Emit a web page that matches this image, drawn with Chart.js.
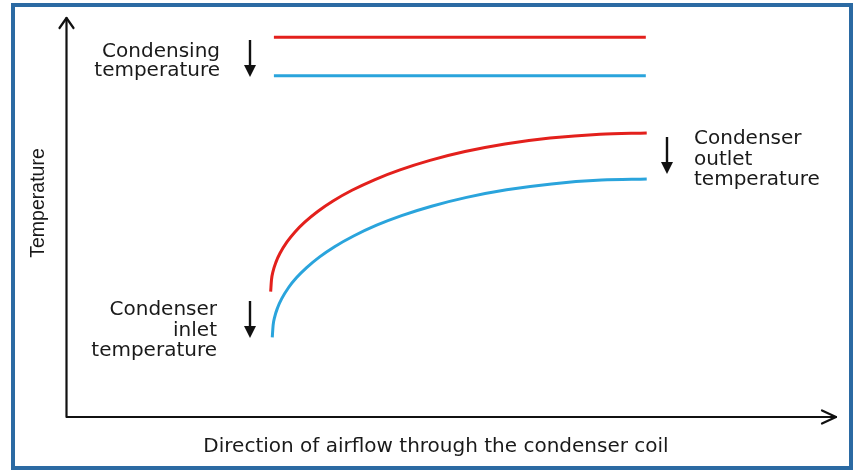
<!DOCTYPE html>
<html>
<head>
<meta charset="utf-8">
<script src="https://cdn.jsdelivr.net/npm/chart.js@4/dist/chart.umd.min.js"></script>
<style>
html,body{margin:0;padding:0;background:#fff;}
canvas{display:block;}
</style>
</head>
<body>
<canvas id="c" width="854" height="470"></canvas>
<script>
// Schematic values (arbitrary units, 0-100 on both axes)
const condensingX = [27.0, 75.3];
const condensingHigh = [95.2, 95.2];
const condensingLow = [85.5, 85.5];

const airHighX = [26.58, 26.69, 26.88, 27.27, 27.79, 28.70, 29.74, 31.04, 32.73, 34.68, 37.14, 40.13, 43.38, 47.27, 51.82, 57.01, 62.86, 69.35, 75.42];
const airHigh  = [31.40, 34.46, 36.42, 38.82, 41.03, 43.88, 46.39, 48.90, 51.58, 54.14, 56.82, 59.52, 61.93, 64.31, 66.52, 68.42, 69.92, 70.88, 71.18];
const airLowX  = [26.79, 26.90, 27.09, 27.48, 28.00, 28.91, 29.95, 31.25, 32.94, 34.88, 37.35, 40.34, 43.58, 47.48, 52.03, 57.22, 63.06, 69.55, 75.42];
const airLow   = [19.97, 23.03, 24.99, 27.39, 29.60, 32.46, 34.94, 37.44, 40.13, 42.68, 45.36, 48.07, 50.48, 52.83, 55.04, 56.94, 58.42, 59.37, 59.65];

const xTitle = 'Direction of airflow through the condenser coil';
const yTitle = 'Temperature';
const labelCondensing = ['Condensing', 'temperature'];
const labelOutlet = ['Condenser', 'outlet', 'temperature'];
const labelInlet = ['Condenser', 'inlet', 'temperature'];

const RED = '#e3201c';
const BLUE = '#2aa4dc';

function pts(xs, ys) { return xs.map((x, i) => ({x: x, y: ys[i]})); }

const decor = {
  id: 'decor',
  afterDraw(chart) {
    const ctx = chart.ctx;
    const a = chart.chartArea;
    ctx.save();
    // frame
    ctx.strokeStyle = '#2b6aa3';
    ctx.lineWidth = 4;
    ctx.strokeRect(13, 5, 838, 463);

    // axes
    ctx.strokeStyle = '#111';
    ctx.lineWidth = 2.2;
    ctx.lineCap = 'round';
    ctx.lineJoin = 'round';
    ctx.beginPath();
    ctx.moveTo(a.left + 0.5, a.top);
    ctx.lineTo(a.left + 0.5, a.bottom);
    ctx.lineTo(a.right, a.bottom);
    ctx.stroke();
    ctx.beginPath();
    ctx.moveTo(a.left - 6.5, a.top + 10);
    ctx.lineTo(a.left + 0.5, a.top);
    ctx.lineTo(a.left + 7.5, a.top + 10);
    ctx.stroke();
    ctx.beginPath();
    ctx.moveTo(a.right - 14, a.bottom - 6.5);
    ctx.lineTo(a.right, a.bottom);
    ctx.lineTo(a.right - 14, a.bottom + 6.5);
    ctx.stroke();

    // down arrows
    function downArrow(x, y1, y2) {
      ctx.fillStyle = '#111';
      ctx.strokeStyle = '#111';
      ctx.lineWidth = 2.4;
      ctx.lineCap = 'butt';
      ctx.beginPath();
      ctx.moveTo(x, y1);
      ctx.lineTo(x, y2 - 8);
      ctx.stroke();
      ctx.beginPath();
      ctx.moveTo(x - 6, y2 - 12);
      ctx.lineTo(x + 6, y2 - 12);
      ctx.lineTo(x, y2);
      ctx.closePath();
      ctx.fill();
    }
    downArrow(250, 40, 77);
    downArrow(667, 137, 174);
    downArrow(250, 301, 338);

    // annotation text
    ctx.fillStyle = '#1a1a1a';
    ctx.font = '20px "DejaVu Sans"';
    ctx.textBaseline = 'alphabetic';
    ctx.textAlign = 'right';
    ctx.fillText(labelCondensing[0], 220, 56.5);
    ctx.fillText(labelCondensing[1], 220, 76);
    ctx.fillText(labelInlet[0], 217, 315);
    ctx.fillText(labelInlet[1], 217, 335.5);
    ctx.fillText(labelInlet[2], 217, 356);
    ctx.textAlign = 'left';
    ctx.fillText(labelOutlet[0], 694, 144);
    ctx.fillText(labelOutlet[1], 694, 164.5);
    ctx.fillText(labelOutlet[2], 694, 185);

    // axis titles
    ctx.textAlign = 'center';
    ctx.fillText(xTitle, 436, 452);
    ctx.save();
    ctx.translate(44, 203);
    ctx.rotate(-Math.PI / 2);
    ctx.font = '19.5px "Liberation Sans"';
    ctx.fillText(yTitle, 0, 0);
    ctx.restore();
    ctx.restore();
  }
};

new Chart(document.getElementById('c'), {
  type: 'line',
  data: {
    datasets: [
      {data: pts(condensingX, condensingHigh), borderColor: RED},
      {data: pts(condensingX, condensingLow), borderColor: BLUE},
      {data: pts(airHighX, airHigh), borderColor: RED, cubicInterpolationMode: 'monotone'},
      {data: pts(airLowX, airLow), borderColor: BLUE, cubicInterpolationMode: 'monotone'}
    ]
  },
  options: {
    responsive: false,
    animation: false,
    devicePixelRatio: 1,
    layout: {padding: {left: 66, right: 18, top: 18, bottom: 53}},
    elements: {
      point: {radius: 0, hoverRadius: 0},
      line: {borderWidth: 3, fill: false, borderCapStyle: 'butt', borderJoinStyle: 'round'}
    },
    plugins: {legend: {display: false}, tooltip: {enabled: false}},
    events: [],
    scales: {
      x: {type: 'linear', min: 0, max: 100, display: false},
      y: {type: 'linear', min: 0, max: 100, display: false}
    }
  },
  plugins: [decor]
});
</script>
</body>
</html>
